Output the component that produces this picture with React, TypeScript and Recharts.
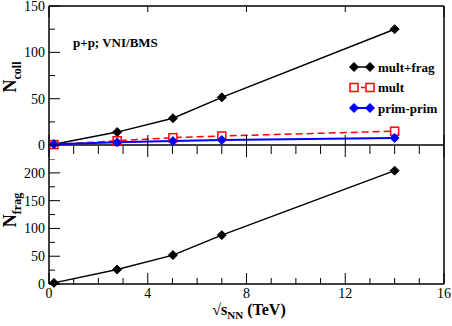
import React from "react";
import { Line, LineChart, ReferenceLine, XAxis, YAxis } from "recharts";

// sqrt(s_NN) in TeV
const energies = [0.2, 2.76, 5.02, 7, 14];
// top panel: N_coll
const multFrag = [1, 14, 29, 51.5, 125];
const mult = [0.5, 4.7, 8, 9.8, 15];
const primPrim = [1, 3, 4.3, 5.5, 7.7];
// bottom panel: N_frag
const nFrag = [2, 26, 52, 88, 204];

const xTicks = [0, 1, 2, 3, 4, 5, 6, 7, 8, 9, 10, 11, 12, 13, 14, 15, 16];
const topYTicks = [0, 25, 50, 75, 100, 125, 150];
const bottomYTicks = [0, 25, 50, 75, 100, 125, 150, 175, 200, 225];

const seriesNames = ["mult+frag", "mult", "prim-prim"];
const seriesColors = ["#000000", "#ff0000", "#0000ff"];

const FONT = "Liberation Serif";
const txt = { fontFamily: FONT };

const topData = energies.map((x, i) => ({
  x,
  multFrag: multFrag[i],
  mult: mult[i],
  primPrim: primPrim[i],
}));
const bottomData = energies.map((x, i) => ({ x, nFrag: nFrag[i] }));

const diamond = (color: string) => (p: any) => {
  const { cx, cy, index } = p;
  if (cx == null || cy == null) return <g key={index} />;
  const r = 4.5;
  return (
    <path
      key={index}
      d={`M${cx},${cy - r}L${cx + r},${cy}L${cx},${cy + r}L${cx - r},${cy}Z`}
      fill={color}
      stroke={color}
    />
  );
};

const openSquare = (color: string) => (p: any) => {
  const { cx, cy, index } = p;
  if (cx == null || cy == null) return <g key={index} />;
  return (
    <rect key={index} x={cx - 4} y={cy - 4} width={8} height={8} fill="#fff" stroke={color} strokeWidth={1.5} />
  );
};

// ---- ticks ----
const TopFrameTick = (p: any) => {
  const major = p.payload.value % 4 === 0;
  return <line x1={p.x} x2={p.x} y1={p.y} y2={p.y + (major ? 11 : 6)} stroke="#000" />;
};

// ticks of the top panel sit on the zero line
const ZeroLineTick = (p: any) => {
  const major = p.payload.value % 4 === 0;
  const zeroY = p.y - 14;
  return major ? (
    <line x1={p.x} x2={p.x} y1={zeroY - 10} y2={zeroY + 12} stroke="#000" />
  ) : (
    <line x1={p.x} x2={p.x} y1={zeroY + 1} y2={zeroY + 9} stroke="#000" />
  );
};

const BottomXTick = (p: any) => {
  const v = p.payload.value;
  const major = v % 4 === 0;
  return (
    <g>
      <line x1={p.x} x2={p.x} y1={p.y} y2={p.y - (major ? 11 : 6)} stroke="#000" />
      {major && (
        <text x={p.x} y={p.y + 14} textAnchor="middle" fontSize={14} style={txt} fill="#000">
          {v}
        </text>
      )}
    </g>
  );
};

const LeftYTick = (p: any) => {
  const v = p.payload.value;
  const major = v % 50 === 0;
  return (
    <g>
      <line x1={p.x} x2={p.x + (major ? 11 : 6)} y1={p.y} y2={p.y} stroke="#000" />
      {major && (
        <text x={p.x - 4} y={p.y + 5} textAnchor="end" fontSize={14} style={txt} fill="#000">
          {v}
        </text>
      )}
    </g>
  );
};

const RightYTick = (p: any) => {
  const major = p.payload.value % 50 === 0;
  return <line x1={p.x} x2={p.x - (major ? 11 : 6)} y1={p.y} y2={p.y} stroke="#000" />;
};

export default function App() {
  return (
    <div style={{ position: "absolute", left: 0, top: 0, width: 452, height: 326, background: "#fff" }}>
      {/* top panel */}
      <div style={{ position: "absolute", left: 0, top: 0 }}>
        <LineChart width={452} height={170} data={topData} margin={{ top: 0, right: 0, bottom: 0, left: 0 }}>
          <XAxis
            dataKey="x"
            type="number"
            domain={[0, 16]}
            ticks={xTicks}
            interval={0}
            height={11}
            axisLine={false}
            tickLine={false}
            tickSize={0}
            tickMargin={0}
            tick={<ZeroLineTick />}
          />
          <XAxis
            xAxisId="top"
            orientation="top"
            type="number"
            domain={[0, 16]}
            ticks={xTicks}
            interval={0}
            height={6}
            axisLine={{ stroke: "#000", strokeWidth: 1.5 }}
            tickLine={false}
            tickSize={0}
            tickMargin={0}
            tick={<TopFrameTick />}
          />
          <YAxis
            type="number"
            domain={[-15, 150]}
            ticks={topYTicks}
            interval={0}
            width={49}
            axisLine={{ stroke: "#000", strokeWidth: 1.5 }}
            tickLine={false}
            tickSize={0}
            tickMargin={0}
            tick={<LeftYTick />}
          />
          <YAxis
            yAxisId="right"
            orientation="right"
            type="number"
            domain={[-15, 150]}
            ticks={topYTicks}
            interval={0}
            width={8}
            axisLine={{ stroke: "#000", strokeWidth: 1.5 }}
            tickLine={false}
            tickSize={0}
            tickMargin={0}
            tick={<RightYTick />}
          />
          <ReferenceLine y={0} stroke="#000" strokeWidth={1.5} />
          <Line
            dataKey="multFrag"
            stroke={seriesColors[0]}
            strokeWidth={1.5}
            dot={diamond(seriesColors[0])}
            isAnimationActive={false}
          />
          <Line
            dataKey="mult"
            stroke={seriesColors[1]}
            strokeWidth={1.5}
            strokeDasharray="7 4"
            dot={openSquare(seriesColors[1])}
            isAnimationActive={false}
          />
          <Line
            dataKey="primPrim"
            stroke={seriesColors[2]}
            strokeWidth={2}
            dot={diamond(seriesColors[2])}
            isAnimationActive={false}
          />
        </LineChart>
      </div>

      {/* bottom panel */}
      <div style={{ position: "absolute", left: 0, top: 159 }}>
        <LineChart width={452} height={167} data={bottomData} margin={{ top: 0, right: 0, bottom: 0, left: 0 }}>
          <XAxis
            dataKey="x"
            type="number"
            domain={[0, 16]}
            ticks={xTicks}
            interval={0}
            height={42}
            axisLine={{ stroke: "#000", strokeWidth: 1.5 }}
            tickLine={false}
            tickSize={0}
            tickMargin={0}
            tick={<BottomXTick />}
          />
          <YAxis
            type="number"
            domain={[0, 225]}
            ticks={bottomYTicks}
            interval={0}
            width={49}
            axisLine={{ stroke: "#000", strokeWidth: 1.5 }}
            tickLine={false}
            tickSize={0}
            tickMargin={0}
            tick={<LeftYTick />}
          />
          <YAxis
            yAxisId="right"
            orientation="right"
            type="number"
            domain={[0, 225]}
            ticks={bottomYTicks}
            interval={0}
            width={8}
            axisLine={{ stroke: "#000", strokeWidth: 1.5 }}
            tickLine={false}
            tickSize={0}
            tickMargin={0}
            tick={<RightYTick />}
          />
          <Line dataKey="nFrag" stroke="#000" strokeWidth={1.5} dot={diamond("#000")} isAnimationActive={false} />
        </LineChart>
      </div>

      {/* titles, annotation, legend */}
      <svg
        width={452}
        height={326}
        style={{ position: "absolute", left: 0, top: 0, pointerEvents: "none", fontFamily: FONT, fontWeight: "bold" }}
      >
        <text x={73} y={47} fontSize={13}>
          p+p; VNI/BMS
        </text>

        {seriesNames.map((name, i) => {
          const y = 67 + i * 20.5;
          const c = seriesColors[i];
          const mark = i === 1 ? openSquare(c) : diamond(c);
          return (
            <g key={name}>
              <line
                x1={354}
                x2={370}
                y1={y}
                y2={y}
                stroke={c}
                strokeWidth={i === 2 ? 2 : 1.5}
                strokeDasharray={i === 1 ? "4 3" : undefined}
              />
              {mark({ cx: 354, cy: y, index: "a" })}
              {mark({ cx: 370, cy: y, index: "b" })}
              <text x={378} y={y + 4.5} fontSize={13}>
                {name}
              </text>
            </g>
          );
        })}

        <text transform="translate(16,77) rotate(-90)" textAnchor="middle">
          <tspan fontSize={18}>N</tspan>
          <tspan fontSize={12} dy={5}>
            coll
          </tspan>
        </text>
        <text transform="translate(16,210) rotate(-90)" textAnchor="middle">
          <tspan fontSize={18}>N</tspan>
          <tspan fontSize={12} dy={5}>
            frag
          </tspan>
        </text>

        <text x={249} y={315} textAnchor="middle">
          <tspan fontSize={16}>√s</tspan>
          <tspan fontSize={11} dy={4}>
            NN
          </tspan>
          <tspan fontSize={16} dy={-4}>
            {" (TeV)"}
          </tspan>
        </text>
      </svg>
    </div>
  );
}
